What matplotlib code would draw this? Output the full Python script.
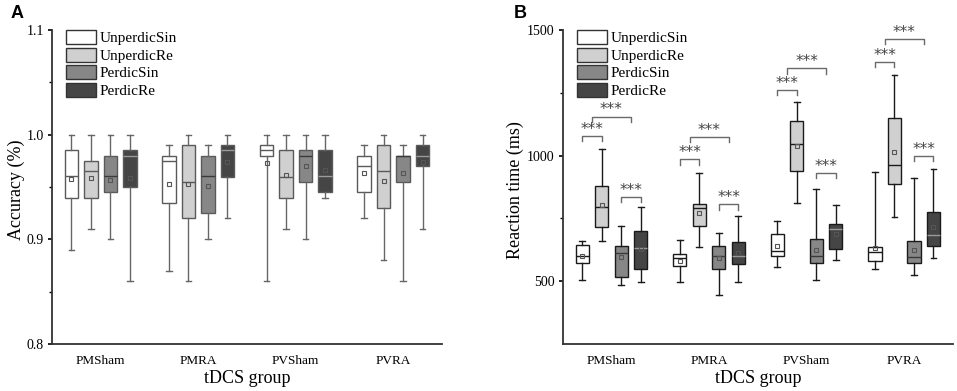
import numpy as np
import matplotlib
matplotlib.use('Agg')
import matplotlib.pyplot as plt
from matplotlib.patches import Patch

plt.rcParams['font.family'] = ['Liberation Serif', 'DejaVu Serif']

# datos
grupos = ['PMSham', 'PMRA', 'PVSham', 'PVRA']
condiciones = ['UnperdicSin', 'UnperdicRe', 'PerdicSin', 'PerdicRe']
colores = ['#ffffff', '#d0d0d0', '#878787', '#454545']

# A: accuracy, filas = grupos, columnas = condiciones
acc_whislo = [[0.89, 0.91, 0.90, 0.86],
              [0.87, 0.86, 0.90, 0.92],
              [0.86, 0.91, 0.90, 0.94],
              [0.92, 0.88, 0.86, 0.91]]
acc_q1 = [[0.94, 0.94, 0.945, 0.95],
          [0.935, 0.92, 0.925, 0.96],
          [0.98, 0.94, 0.955, 0.945],
          [0.945, 0.93, 0.955, 0.97]]
acc_med = [[0.961, 0.965, 0.961, 0.98],
           [0.975, 0.955, 0.961, 0.985],
           [0.985, 0.96, 0.98, 0.961],
           [0.97, 0.965, 0.98, 0.98]]
acc_q3 = [[0.985, 0.975, 0.98, 0.985],
          [0.98, 0.99, 0.98, 0.99],
          [0.99, 0.985, 0.985, 0.985],
          [0.98, 0.99, 0.98, 0.99]]
acc_whishi = [[1.0, 1.0, 1.0, 1.0],
              [0.99, 1.0, 0.99, 1.0],
              [1.0, 1.0, 1.0, 1.0],
              [0.99, 1.0, 0.99, 1.0]]
acc_mean = [[0.958, 0.959, 0.957, 0.959],
            [0.953, 0.953, 0.951, 0.974],
            [0.973, 0.962, 0.970, 0.966],
            [0.963, 0.956, 0.963, 0.974]]

# B: reaction time (ms)
rt_whislo = [[507, 659, 487, 497],
             [497, 635, 447, 497],
             [555, 812, 505, 583],
             [549, 754, 527, 592]]
rt_q1 = [[572, 716, 516, 550],
         [559, 720, 550, 569],
         [599, 940, 574, 630],
         [579, 889, 571, 639]]
rt_med = [[599, 794, 614, 634],
          [592, 793, 601, 601],
          [619, 1047, 599, 707],
          [615, 963, 595, 686]]
rt_q3 = [[646, 879, 642, 702],
         [610, 806, 642, 655],
         [688, 1140, 670, 727],
         [636, 1152, 660, 775]]
rt_whishi = [[660, 1025, 720, 794],
             [663, 932, 692, 760],
             [740, 1212, 866, 803],
             [936, 1322, 910, 946]]
rt_mean = [[602, 803, 597, 630],
           [580, 773, 592, 612],
           [640, 1040, 623, 688],
           [634, 1016, 626, 716]]

# alturas de los corchetes ***: (1 vs 2), (12 vs 34), (3 vs 4)
corchete_12 = [1079, 985, 1263, 1374]
corchete_ancho = [1156, 1076, 1349, 1466]
corchete_34 = [836, 807, 932, 999]

desplaz = [-0.3, -0.1, 0.1, 0.3]
ancho = 0.135


def dibujar_cajas(ax, wlo, q1, med, q3, whi, media, borde, bigote):
    for g in range(4):
        for c in range(4):
            stats = [dict(whislo=wlo[g][c], q1=q1[g][c], med=med[g][c],
                          q3=q3[g][c], whishi=whi[g][c], mean=media[g][c],
                          fliers=[])]
            pos = g + 0.5 + desplaz[c]
            med_col = borde if c < 2 else '#9a9a9a' if c == 3 else '#3a3a3a'
            ax.bxp(stats, positions=[pos], widths=ancho, showmeans=True,
                   patch_artist=True, manage_ticks=False,
                   boxprops=dict(facecolor=colores[c], edgecolor=borde, linewidth=1.0),
                   medianprops=dict(color=med_col, linewidth=1.0),
                   whiskerprops=dict(color=bigote, linewidth=1.0),
                   capprops=dict(color=bigote, linewidth=1.0),
                   capwidths=0.06,
                   meanprops=dict(marker='s', markersize=3.5, markerfacecolor='none',
                                  markeredgecolor='#555555', markeredgewidth=0.8))


def estilo(ax, ylim, ticks, minors, ylabel, fmt, xlab):
    ax.set_xlim(0, 4)
    ax.set_ylim(*ylim)
    ax.set_xticks([0.5, 1.5, 2.5, 3.5])
    ax.set_xticklabels(grupos, fontsize=9.5)
    ax.tick_params(axis='x', length=0, pad=8)
    ax.set_yticks(ticks)
    ax.set_yticklabels([fmt(t) for t in ticks], fontsize=10)
    ax.set_yticks(minors, minor=True)
    ax.tick_params(axis='y', which='major', length=3, width=1.2, pad=3)
    ax.tick_params(axis='y', which='minor', length=2, width=1.0)
    for s in ['top', 'right']:
        ax.spines[s].set_visible(False)
    for s in ['left', 'bottom']:
        ax.spines[s].set_linewidth(1.3)
        ax.spines[s].set_color('#333333')
    ax.set_xlabel('tDCS group', fontsize=13, labelpad=2)
    ax.set_ylabel(ylabel, fontsize=13)
    ax.yaxis.set_label_coords(xlab, 0.49)
    leg = [Patch(facecolor=colores[i], edgecolor='#333333', label=condiciones[i])
           for i in range(4)]
    ax.legend(handles=leg, loc='upper left', bbox_to_anchor=(0.02, 1.02),
              frameon=False, fontsize=11, handlelength=2.0, handleheight=1.05,
              labelspacing=0.15, handletextpad=0.2, borderaxespad=0)


fig = plt.figure(figsize=(9.57, 3.91), dpi=100)
axA = fig.add_axes([0.0543, 0.12, 0.4076, 0.803])
axB = fig.add_axes([0.588, 0.12, 0.4078, 0.803])

dibujar_cajas(axA, acc_whislo, acc_q1, acc_med, acc_q3, acc_whishi, acc_mean,
              '#5a5a5a', '#666666')
estilo(axA, (0.8, 1.1), [0.8, 0.9, 1.0, 1.1], [0.85, 0.95, 1.05],
       'Accuracy (%)', lambda t: '%.1f' % t, -0.07)

dibujar_cajas(axB, rt_whislo, rt_q1, rt_med, rt_q3, rt_whishi, rt_mean,
              '#1a1a1a', '#1a1a1a')
estilo(axB, (250, 1500), [500, 1000, 1500], [750, 1250],
       'Reaction time (ms)', lambda t: '%d' % t, -0.099)

# corchetes de significancia
pata = 22
for g in range(4):
    base = g + 0.5
    pares = [(base + desplaz[0], base + desplaz[1], corchete_12[g]),
             (base - 0.2, base + 0.2, corchete_ancho[g]),
             (base + desplaz[2], base + desplaz[3], corchete_34[g])]
    for x1, x2, h in pares:
        axB.plot([x1, x1, x2, x2], [h - pata, h, h, h - pata],
                 color='#6a6a6a', linewidth=1.0)
        axB.text((x1 + x2) / 2, h + 26, '***', ha='center', va='center',
                 fontsize=11, color='#444444', family='DejaVu Sans')

fig.text(0.011, 0.965, 'A', fontsize=13, fontweight='bold',
         family='Liberation Sans', va='center')
fig.text(0.537, 0.965, 'B', fontsize=13, fontweight='bold',
         family='Liberation Sans', va='center')

fig.savefig('out.png', dpi=100)
